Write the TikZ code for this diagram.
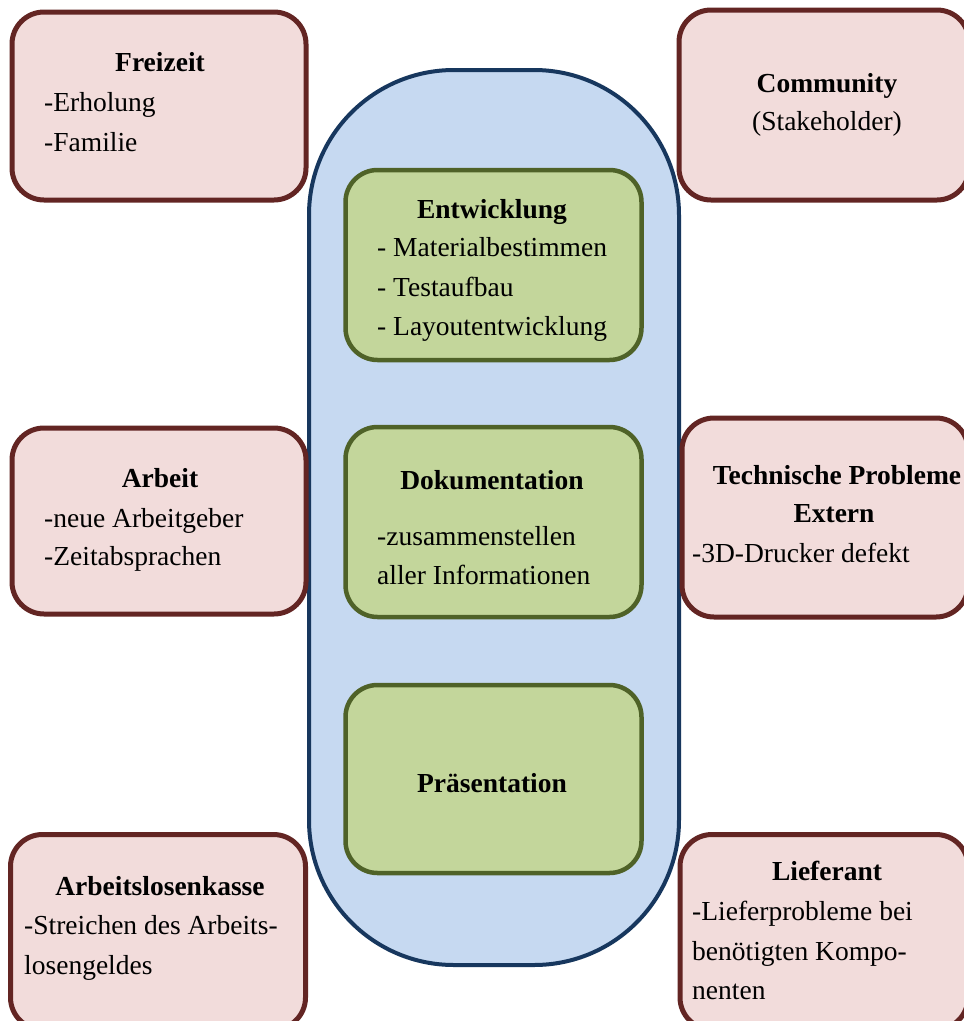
\documentclass[tikz,border=0pt]{standalone}
\usepackage{fontspec}
\setmainfont{Liberation Serif}
\definecolor{pinkfill}{HTML}{F2DCDB}
\definecolor{pinkline}{HTML}{632523}
\definecolor{bluefill}{HTML}{C6D9F1}
\definecolor{blueline}{HTML}{17375E}
\definecolor{greenfill}{HTML}{C3D69B}
\definecolor{greenline}{HTML}{4F6228}
\tikzset{
  pinkbox/.style={draw=pinkline, fill=pinkfill, line width=5pt, rounded corners=32pt, inner sep=0},
  greenbox/.style={draw=greenline, fill=greenfill, line width=4.5pt, rounded corners=32pt, inner sep=0},
  bluebox/.style={draw=blueline, fill=bluefill, line width=4pt, rounded corners=145pt, inner sep=0},
  txt/.style={inner sep=0, font=\fontsize{27.5}{32}\selectfont, text height=19pt, text depth=7pt},
  ttl/.style={inner sep=0, font=\fontsize{27.5}{32}\selectfont\bfseries, text height=19pt, text depth=7pt},
}
\begin{document}
\begin{tikzpicture}[x=1pt,y=-1pt]
\useasboundingbox (0,0) rectangle (964,1021);
\clip (0,0) rectangle (964,1021);
\fill[white] (0,0) rectangle (964,1021);

% central column
\node[bluebox, minimum width=370pt, minimum height=895pt] (column) at (494,517.5) {};

% green boxes
\node[greenbox, minimum width=296pt, minimum height=190pt] (entw) at (493.5,265) {};
\node[greenbox, minimum width=296pt, minimum height=190pt] (doku) at (493.5,522) {};
\node[greenbox, minimum width=296pt, minimum height=188pt] (praes) at (493.5,779) {};

% pink boxes
\node[pinkbox, minimum width=294pt, minimum height=188pt] (frei) at (159,106) {};
\node[pinkbox, minimum width=290pt, minimum height=190pt] (comm) at (824,105) {};
\node[pinkbox, minimum width=294pt, minimum height=186pt] (arb) at (159,521) {};
\node[pinkbox, minimum width=286pt, minimum height=199pt] (tech) at (825,517.5) {};
\node[pinkbox, minimum width=295pt, minimum height=195pt] (alk) at (158,932) {};
\node[pinkbox, minimum width=288pt, minimum height=195pt] (lief) at (824,932) {};

% texts: Freizeit
\node[ttl] (freiT) at (160,65) {Freizeit};
\node[txt, anchor=west] (frei1) at (44,105) {-Erholung};
\node[txt, anchor=west] (frei2) at (44,145) {-Familie};

% Community
\node[ttl] (commT) at (827,86) {Community};
\node[txt] (comm1) at (827,124) {(Stakeholder)};

% Entwicklung
\node[ttl] (entwT) at (492,212) {Entwicklung};
\node[txt, anchor=west] (entw1) at (377,250) {- Materialbestimmen};
\node[txt, anchor=west] (entw2) at (377,290) {- Testaufbau};
\node[txt, anchor=west] (entw3) at (377,329) {- Layoutentwicklung};

% Dokumentation
\node[ttl] (dokuT) at (492,483) {Dokumentation};
\node[txt, anchor=west] (doku1) at (377,539) {-zusammenstellen};
\node[txt, anchor=west] (doku2) at (377,578) {aller Informationen};

% Praesentation
\node[ttl] (praesT) at (492,786) {Präsentation};

% Arbeit
\node[ttl] (arbT) at (160,481) {Arbeit};
\node[txt, anchor=west] (arb1) at (44,521) {-neue Arbeitgeber};
\node[txt, anchor=west] (arb2) at (44,559) {-Zeitabsprachen};

% Technische Probleme
\node[ttl] (techT) at (837,478) {Technische Probleme};
\node[ttl] (techT2) at (834,516) {Extern};
\node[txt, anchor=west] (tech1) at (692,556) {-3D-Drucker defekt};

% Arbeitslosenkasse
\node[ttl] (alkT) at (160,889) {Arbeitslosenkasse};
\node[txt, anchor=west] (alk1) at (24,928) {-Streichen des Arbeits-};
\node[txt, anchor=west] (alk2) at (24,968) {losengeldes};

% Lieferant
\node[ttl] (liefT) at (827,874) {Lieferant};
\node[txt, anchor=west] (lief1) at (692,914) {-Lieferprobleme bei};
\node[txt, anchor=west] (lief2) at (692,954) {benötigten Kompo-};
\node[txt, anchor=west] (lief3) at (692,993) {nenten};
\end{tikzpicture}
\end{document}
